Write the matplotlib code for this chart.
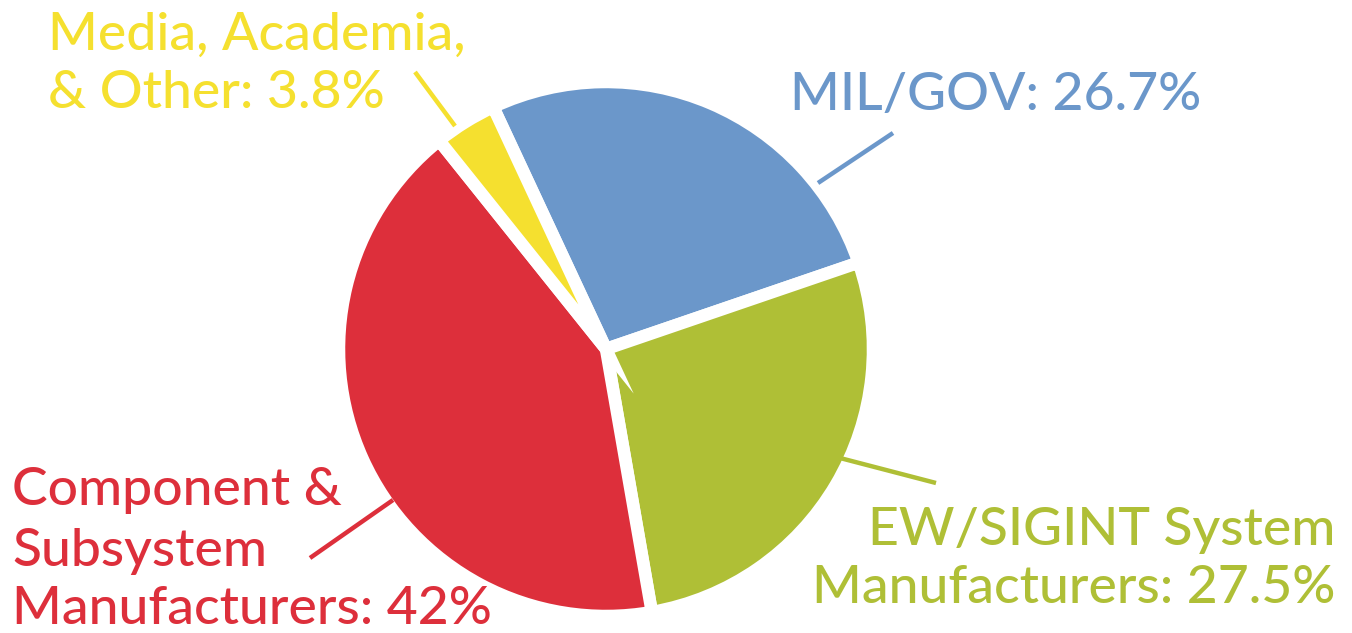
import matplotlib
matplotlib.use("Agg")
import matplotlib.pyplot as plt

# ---- data ----
categories = ["MIL/GOV", "EW/SIGINT System Manufacturers",
              "Component & Subsystem Manufacturers", "Media, Academia, & Other"]
values = [26.7, 27.5, 42.0, 3.8]
value_labels = ["26.7%", "27.5%", "42%", "3.8%"]
colors = ["#6B97CA", "#AFBF36", "#DD2F3B", "#F5E02F"]

W, H = 1352, 633
fig = plt.figure(figsize=(W / 100, H / 100), dpi=100)
ax = fig.add_axes([0, 0, 1, 1])

def Y(y):
    return H - y

ax.pie(values, colors=colors, startangle=115, counterclock=False,
       center=(606, Y(349)), radius=267,
       wedgeprops=dict(edgecolor="white", linewidth=9, joinstyle="miter"))
ax.set_xlim(0, W)
ax.set_ylim(0, H)
ax.set_aspect("equal")
ax.axis("off")

FONT = "Lato"
FS = 38.5

def put(lines, x, baselines, color, ha="left"):
    for line, b in zip(lines, baselines):
        ax.text(x, Y(b), line, color=color, fontsize=FS, family=FONT,
                ha=ha, va="baseline", fontweight="medium")

# labels
put(["Media, Academia,", "& Other: " + value_labels[3]], 48, [50, 108], colors[3])
put(["MIL/GOV: " + value_labels[0]], 790, [110], colors[0])
put(["EW/SIGINT System", "Manufacturers: " + value_labels[1]], 1335, [545, 603],
    colors[1], ha="right")
put(["Component &", "Subsystem", "Manufacturers: " + value_labels[2]], 12,
    [505, 566, 624], colors[2])

# leader lines
lw = 3.2
ax.plot([415, 455], [Y(72), Y(126)], color=colors[3], lw=lw, solid_capstyle="butt")
ax.plot([818, 893], [Y(183), Y(133)], color=colors[0], lw=lw, solid_capstyle="butt")
ax.plot([840, 936], [Y(458), Y(483)], color=colors[1], lw=lw, solid_capstyle="butt")
ax.plot([310, 393], [Y(558), Y(500)], color=colors[2], lw=lw, solid_capstyle="butt")

fig.savefig("out.png", dpi=100, facecolor="white")
